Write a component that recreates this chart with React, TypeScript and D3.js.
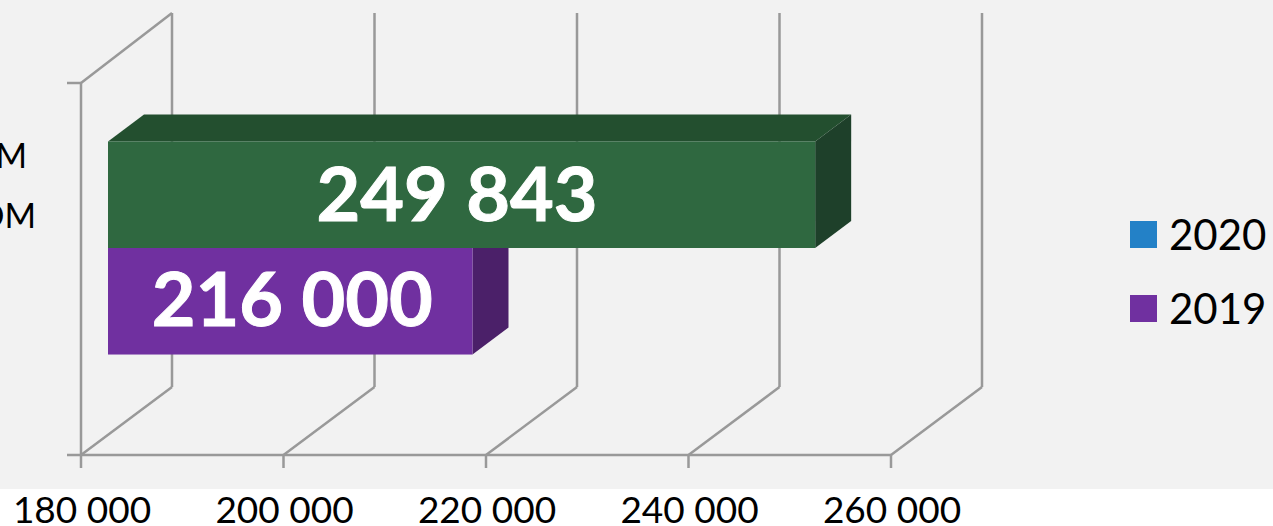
import * as d3 from "d3";

const categoryTail = ["М", "ОМ"];
const seriesNames = ["2020", "2019"];
const seriesValues = [249843, 216000];
const legendNames = ["2020", "2019"];
const legendColors = ["#2381c7", "#7030a0"];
const tickValues = [180000, 200000, 220000, 240000, 260000];

// front / top / side shades, the 2020 bar was recoloured green in the original
const barShades = [
  { front: "#2f6840", top: "#234f2f", side: "#1e402a" },
  { front: "#7030a0", top: "#54247a", side: "#4b2069" },
];

const WIDTH = 1273;
const HEIGHT = 526;
const FONT = "Lato, Carlito, 'Open Sans', sans-serif";
const GRID = "#999999";

const fmt = d3.formatLocale({
  decimal: ",",
  thousands: " ",
  grouping: [3],
  currency: ["", ""],
}).format(",");

export default function App() {
  const left = 81;
  const floorY = 455;
  const topY = 83;
  const wallDx = 91; // oblique offset of the back wall
  const wallTopDy = -70;
  const wallBottomDy = -68;
  const barDx = 36; // bar depth
  const barDy = -27;
  const frontDx = 27; // bars sit in the middle of the floor
  const frontDy = -21;

  const x = d3.scaleLinear().domain([180000, 260000]).range([left, 891]);
  const y = d3
    .scaleBand()
    .domain(seriesNames)
    .range([topY + frontDy, floorY + frontDy])
    .paddingInner(0)
    .paddingOuter(0.746);

  const bars = seriesNames.map((name, i) => ({ name, value: seriesValues[i], shade: barShades[i] }));

  return (
    <svg
      width={WIDTH}
      height={HEIGHT}
      style={{ position: "fixed", left: 0, top: 0, fontFamily: FONT }}
    >
      <rect width={WIDTH} height={HEIGHT} fill="#fff" />
      <rect width={WIDTH} height={489} fill="#f2f2f2" />

      {/* Back wall and floor lines */}
      <g stroke={GRID} strokeWidth={2.5} fill="none">
        {tickValues.map((t) => (
          <g key={t}>
            <line x1={x(t) + wallDx} x2={x(t) + wallDx} y1={topY + wallTopDy} y2={floorY + wallBottomDy} />
            <line x1={x(t)} x2={x(t) + wallDx} y1={floorY} y2={floorY + wallBottomDy} />
            <line x1={x(t)} x2={x(t)} y1={floorY} y2={468} />
          </g>
        ))}
        <line x1={left} x2={left + wallDx} y1={topY} y2={topY + wallTopDy} />
        <line x1={left} x2={left} y1={topY} y2={floorY} />
        <line x1={67} x2={891} y1={floorY} y2={floorY} />
        <line x1={67} x2={left} y1={topY} y2={topY} />
      </g>

      {/* Bars, lower one first so the upper bar covers its top face */}
      {[...bars].reverse().map((b) => {
        const x0 = x(180000) + frontDx;
        const x1 = x(b.value) + frontDx;
        const y0 = y(b.name)!;
        const y1 = y0 + y.bandwidth();
        return (
          <g key={b.name}>
            <polygon
              points={`${x0},${y0} ${x0 + barDx},${y0 + barDy} ${x1 + barDx},${y0 + barDy} ${x1},${y0}`}
              fill={b.shade.top}
            />
            <polygon
              points={`${x1},${y0} ${x1 + barDx},${y0 + barDy} ${x1 + barDx},${y1 + barDy} ${x1},${y1}`}
              fill={b.shade.side}
            />
            <rect x={x0} y={y0} width={x1 - x0} height={y1 - y0} fill={b.shade.front} />
          </g>
        );
      })}

      {/* Data labels, nudged by hand as in the original */}
      {bars.map((b, i) => (
        <text
          key={b.name}
          x={(x(180000) + x(b.value)) / 2 + 27 + (i === 0 ? -4.5 : 2)}
          y={y(b.name)! + y.bandwidth() / 2 + (i === 0 ? 26 : 25)}
          textAnchor="middle"
          fontSize={75.5}
          fontWeight={700}
          fill="#fff"
          stroke="#fff"
          strokeWidth={1}
        >
          {fmt(b.value)}
        </text>
      ))}

      {/* Category label, cut off by the left edge of the picture */}
      {categoryTail.map((t, i) => (
        <text key={t} x={i === 0 ? 27 : 36} y={168 + i * 60} textAnchor="end" fontSize={34} fill="#000">
          {t}
        </text>
      ))}

      {/* Value axis labels */}
      {tickValues.map((t) => (
        <text key={t} x={x(t) + 1} y={523} textAnchor="middle" fontSize={37} fill="#000">
          {fmt(t)}
        </text>
      ))}

      {/* Legend */}
      {legendNames.map((name, i) => (
        <g key={name}>
          <rect x={1130} y={221 + i * 74} width={27} height={27} fill={legendColors[i]} />
          <text x={1169} y={250 + i * 74} fontSize={42} fill="#000">
            {name}
          </text>
        </g>
      ))}
    </svg>
  );
}
